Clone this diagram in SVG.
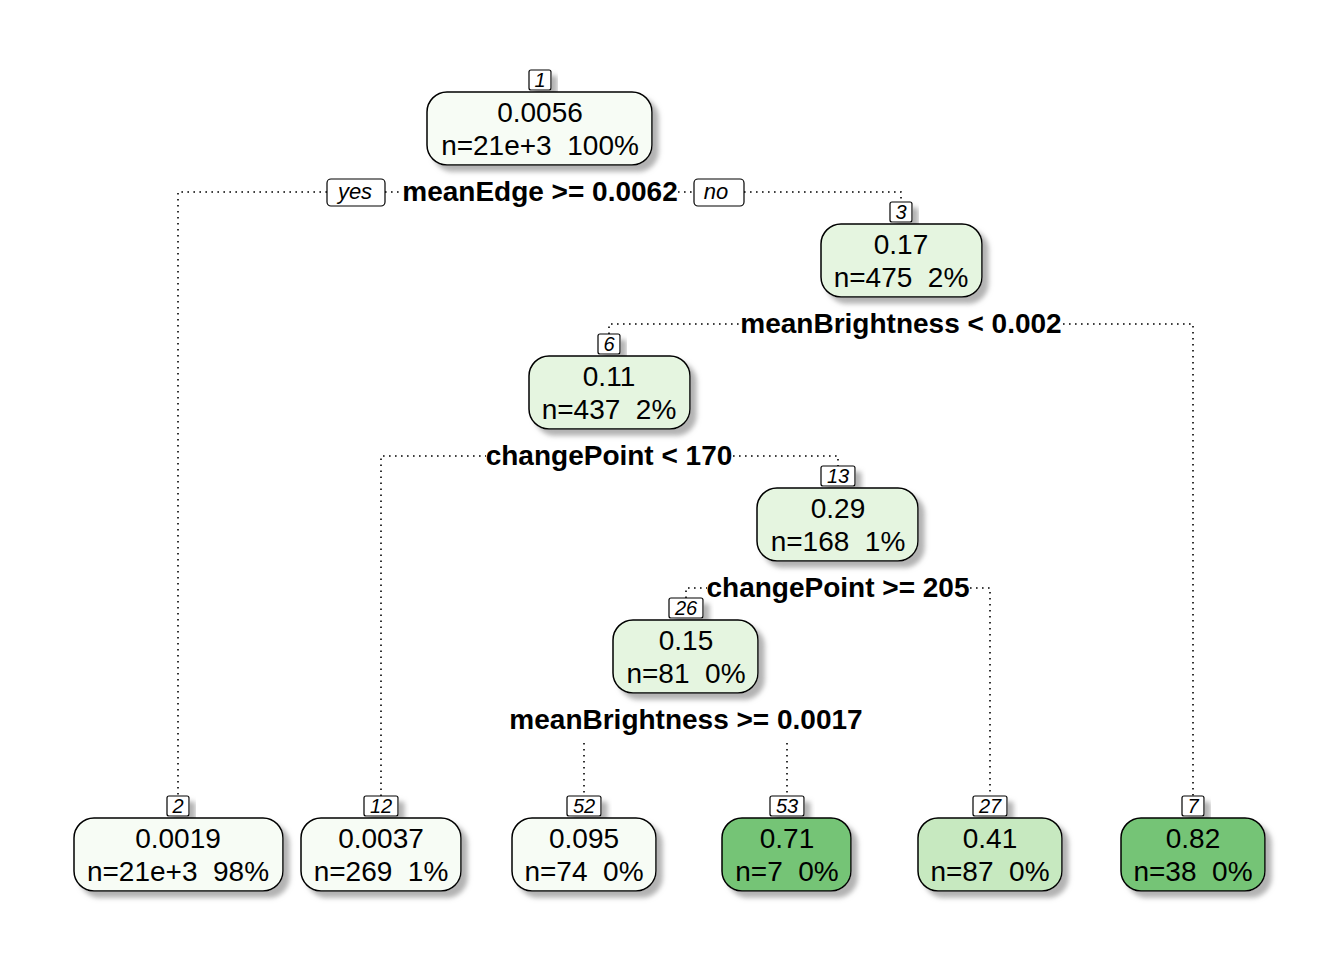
<svg xmlns="http://www.w3.org/2000/svg" width="1344" height="960" viewBox="0 0 1344 960">
<defs>
<filter id="sh" x="-20%" y="-20%" width="150%" height="160%">
<feDropShadow dx="6" dy="6" stdDeviation="2.5" flood-color="#9a9a9a" flood-opacity="0.75"/>
</filter>
<style>
.box{stroke:#000;stroke-width:1.5;filter:url(#sh)}
.lab{fill:#fff;stroke:#000;stroke-width:1.2;filter:url(#sh)}
.tag{fill:#fff;stroke:#000;stroke-width:1.2}
.t{font-family:"Liberation Sans",Arial,Helvetica,sans-serif;font-size:28px;text-anchor:middle;fill:#000}
.s{font-family:"Liberation Sans",Arial,Helvetica,sans-serif;font-size:28px;font-weight:bold;text-anchor:middle;fill:#000}
.n{font-family:"Liberation Sans",Arial,Helvetica,sans-serif;font-size:20px;font-style:italic;text-anchor:middle;fill:#000}
.yn{font-family:"Liberation Sans",Arial,Helvetica,sans-serif;font-size:22px;font-style:italic;text-anchor:middle;fill:#000}
.c{fill:none;stroke:#000;stroke-width:1.6;stroke-dasharray:1.6 4.4}
.p0{fill:#F7FCF5}.p1{fill:#E5F5E0}.p2{fill:#C7E9C0}.p3{fill:#74C476}
</style>
</defs>
<rect width="1344" height="960" fill="#fff"/>
<g id="connectors">
<path class="c" d="M327 192 H178 V796"/>
<path class="c" d="M385 192 H401"/>
<path class="c" d="M678 192 H694"/>
<path class="c" d="M744 192 H901 V202"/>
<path class="c" d="M609 334 V324 H740"/>
<path class="c" d="M1063 324 H1193 V796"/>
<path class="c" d="M381 796 V456 H486"/>
<path class="c" d="M733 456 H838 V466"/>
<path class="c" d="M686 598 V588 H707"/>
<path class="c" d="M970 588 H990 V796"/>
<path class="c" d="M584 743 V796"/>
<path class="c" d="M787 743 V796"/>
</g>
<g id="splits">
<g id="split1">
<rect class="tag" x="327" y="179" width="58" height="27" rx="4"/>
<text class="yn" x="355" y="199">yes</text>
<text class="s" x="540" y="201">meanEdge &gt;= 0.0062</text>
<rect class="tag" x="694" y="179" width="50" height="27" rx="4"/>
<text class="yn" x="716" y="199">no</text>
</g>
<text id="split3" class="s" x="901" y="333">meanBrightness &lt; 0.002</text>
<text id="split6" class="s" x="609" y="465">changePoint &lt; 170</text>
<text id="split13" class="s" x="838" y="597">changePoint &gt;= 205</text>
<text id="split26" class="s" x="686" y="729">meanBrightness &gt;= 0.0017</text>
</g>
<g id="node1">
<rect class="lab" x="529" y="70" width="22" height="20" rx="2"/><text class="n" x="540" y="87">1</text>
<rect class="box p0" x="427" y="92" width="225" height="73" rx="20"/>
<text class="t" x="540" y="122">0.0056</text><text class="t" x="540" y="155" xml:space="preserve">n=21e+3  100%</text>
</g>
<g id="node3">
<rect class="lab" x="890" y="202" width="22" height="20" rx="2"/><text class="n" x="901" y="219">3</text>
<rect class="box p1" x="821" y="224" width="161" height="73" rx="20"/>
<text class="t" x="901" y="254">0.17</text><text class="t" x="901" y="287" xml:space="preserve">n=475  2%</text>
</g>
<g id="node6">
<rect class="lab" x="598" y="334" width="22" height="20" rx="2"/><text class="n" x="609" y="351">6</text>
<rect class="box p1" x="529" y="356" width="161" height="73" rx="20"/>
<text class="t" x="609" y="386">0.11</text><text class="t" x="609" y="419" xml:space="preserve">n=437  2%</text>
</g>
<g id="node13">
<rect class="lab" x="821" y="466" width="34" height="20" rx="2"/><text class="n" x="838" y="483">13</text>
<rect class="box p1" x="757" y="488" width="161" height="73" rx="20"/>
<text class="t" x="838" y="518">0.29</text><text class="t" x="838" y="551" xml:space="preserve">n=168  1%</text>
</g>
<g id="node26">
<rect class="lab" x="669" y="598" width="34" height="20" rx="2"/><text class="n" x="686" y="615">26</text>
<rect class="box p1" x="613" y="620" width="145" height="73" rx="20"/>
<text class="t" x="686" y="650">0.15</text><text class="t" x="686" y="683" xml:space="preserve">n=81  0%</text>
</g>
<g id="node2">
<rect class="lab" x="167" y="796" width="22" height="20" rx="2"/><text class="n" x="178" y="813">2</text>
<rect class="box p0" x="74" y="818" width="209" height="73" rx="20"/>
<text class="t" x="178" y="848">0.0019</text><text class="t" x="178" y="881" xml:space="preserve">n=21e+3  98%</text>
</g>
<g id="node12">
<rect class="lab" x="364" y="796" width="34" height="20" rx="2"/><text class="n" x="381" y="813">12</text>
<rect class="box p0" x="301" y="818" width="160" height="73" rx="20"/>
<text class="t" x="381" y="848">0.0037</text><text class="t" x="381" y="881" xml:space="preserve">n=269  1%</text>
</g>
<g id="node52">
<rect class="lab" x="567" y="796" width="34" height="20" rx="2"/><text class="n" x="584" y="813">52</text>
<rect class="box p0" x="512" y="818" width="144" height="73" rx="20"/>
<text class="t" x="584" y="848">0.095</text><text class="t" x="584" y="881" xml:space="preserve">n=74  0%</text>
</g>
<g id="node53">
<rect class="lab" x="770" y="796" width="34" height="20" rx="2"/><text class="n" x="787" y="813">53</text>
<rect class="box p3" x="722" y="818" width="129" height="73" rx="20"/>
<text class="t" x="787" y="848">0.71</text><text class="t" x="787" y="881" xml:space="preserve">n=7  0%</text>
</g>
<g id="node27">
<rect class="lab" x="973" y="796" width="34" height="20" rx="2"/><text class="n" x="990" y="813">27</text>
<rect class="box p2" x="918" y="818" width="144" height="73" rx="20"/>
<text class="t" x="990" y="848">0.41</text><text class="t" x="990" y="881" xml:space="preserve">n=87  0%</text>
</g>
<g id="node7">
<rect class="lab" x="1182" y="796" width="22" height="20" rx="2"/><text class="n" x="1193" y="813">7</text>
<rect class="box p3" x="1121" y="818" width="144" height="73" rx="20"/>
<text class="t" x="1193" y="848">0.82</text><text class="t" x="1193" y="881" xml:space="preserve">n=38  0%</text>
</g>
</svg>
